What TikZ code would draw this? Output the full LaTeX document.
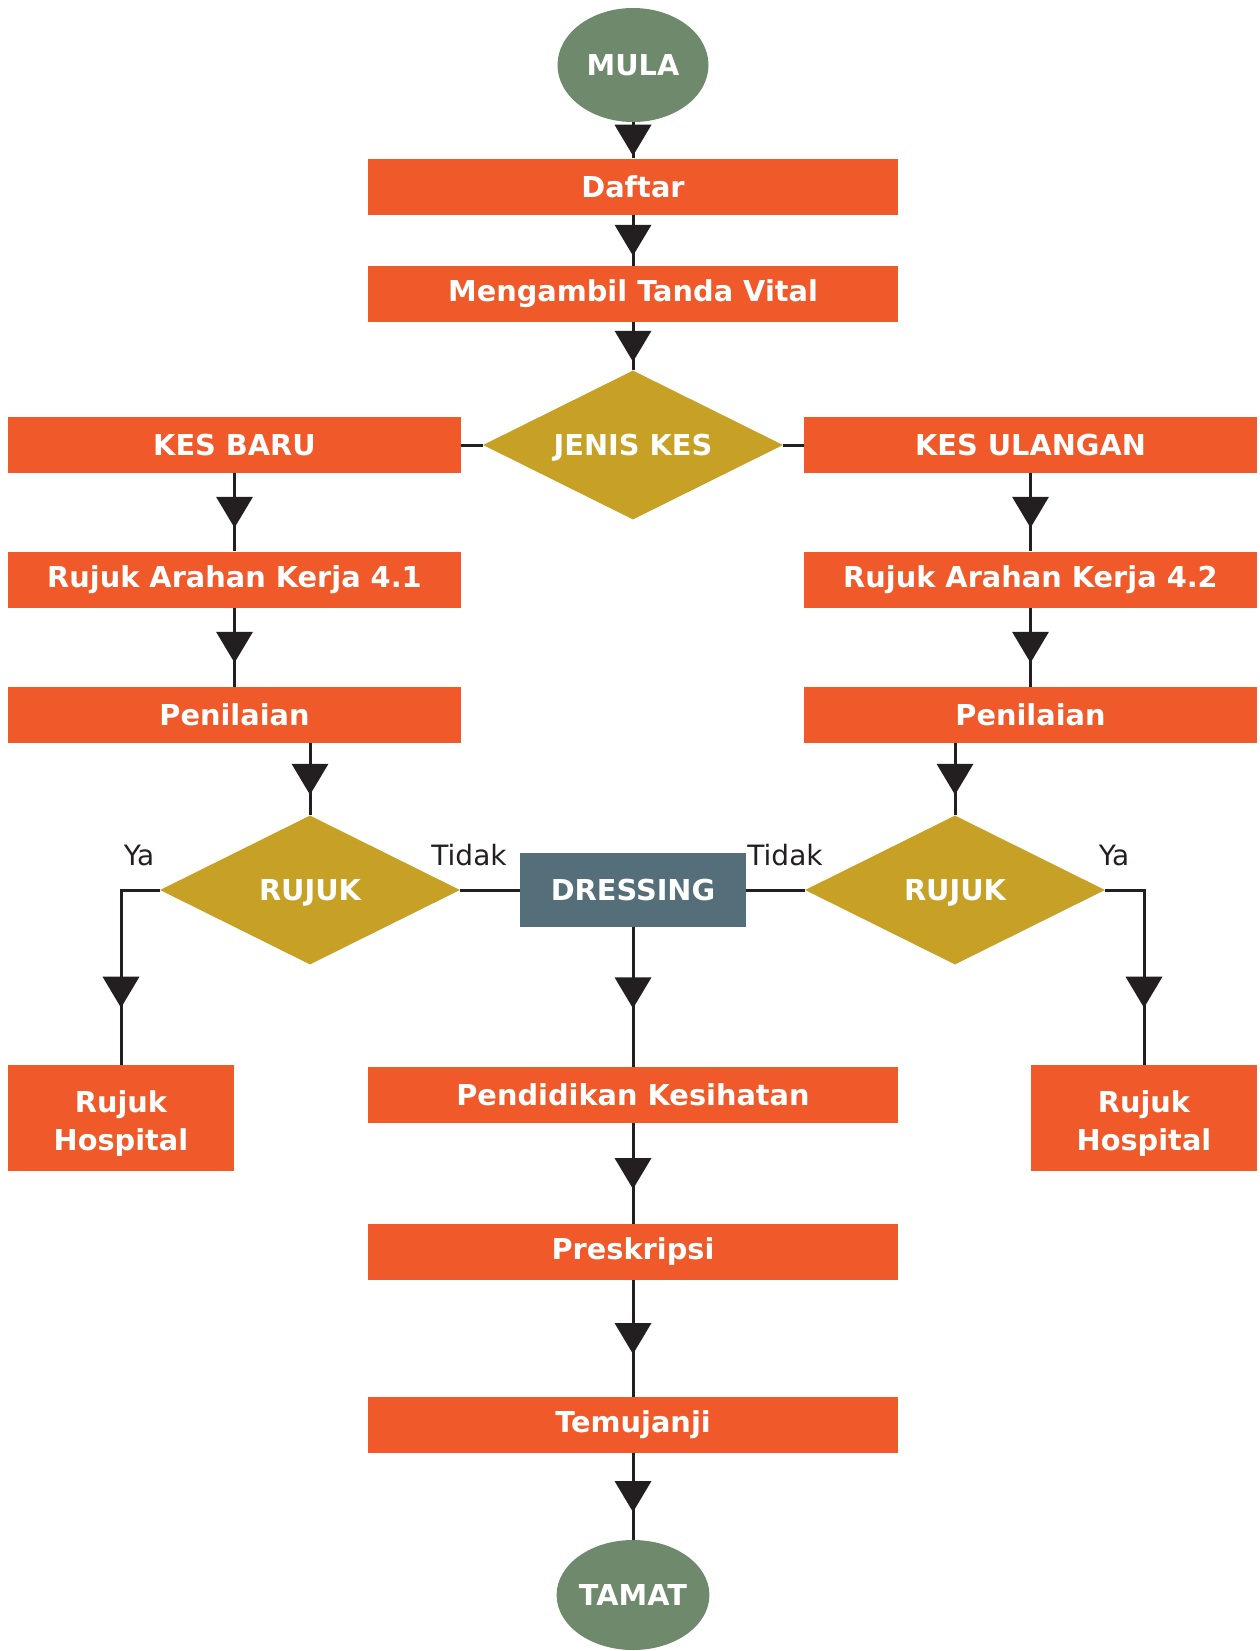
\documentclass[tikz,border=0pt]{standalone}
\usepackage{fontspec}
\setmainfont{DejaVu Sans}
\usetikzlibrary{shapes.geometric,decorations.markings}
\definecolor{boxor}{RGB}{240,90,42}
\definecolor{ellgr}{RGB}{110,137,107}
\definecolor{dgold}{RGB}{198,161,37}
\definecolor{slate}{RGB}{84,110,122}
\definecolor{arrc}{RGB}{35,31,32}
\tikzset{
  stepbox/.style={rectangle, fill=boxor, minimum width=530pt, minimum height=56pt, inner sep=0pt, text=white, font=\bfseries\fontsize{28.8}{34}\selectfont},
  sidebox/.style={stepbox, minimum width=453pt},
  hospbox/.style={stepbox, minimum width=226pt, minimum height=106pt, font=\bfseries\fontsize{28.8}{38}\selectfont},
  term/.style={ellipse, fill=ellgr, minimum width=151pt, minimum height=114pt, inner sep=0pt, text=white, font=\bfseries\fontsize{28.8}{34}\selectfont},
  decide/.style={diamond, shape aspect=2, fill=dgold, minimum width=300pt, minimum height=149pt, inner sep=0pt, text height=21pt, text depth=0pt, text=white, font=\bfseries\fontsize{28.8}{34}\selectfont},
  dressbox/.style={rectangle, fill=slate, minimum width=226pt, minimum height=74pt, inner sep=0pt, text=white, font=\bfseries\fontsize{28.8}{34}\selectfont},
  lbl/.style={text=arrc, font=\fontsize{28}{34}\selectfont, inner sep=0pt},
  conn/.style={draw=arrc, line width=3pt},
  midarrow/.style={conn, postaction=decorate, decoration={markings, mark=at position #1 with {\fill[arrc] (15.5pt,0pt) -- (-15.5pt,18.5pt) -- (-15.5pt,-18.5pt) -- cycle;}}},
  midarrow/.default=0.5
}
\newcommand{\twoline}[2]{\raisebox{-6pt}[\height][\depth]{\begin{tabular}{@{}c@{}}#1\\#2\end{tabular}}}
\begin{document}
\begin{tikzpicture}[x=1pt,y=-1pt]
\useasboundingbox (0,0) rectangle (1260,1651);
\node[term] (mula) at (633,65) {MULA};
\node[stepbox] (daftar) at (633,186.5) {Daftar};
\node[stepbox] (vital) at (633,294) {Mengambil Tanda Vital};
\node[decide] (jenis) at (633,445) {JENIS KES};
\node[sidebox] (kesbaru) at (234.5,445) {KES BARU};
\node[sidebox] (kesulang) at (1030.5,445) {KES ULANGAN};
\node[sidebox] (rujukA) at (234.5,579.5) {Rujuk Arahan Kerja 4.1};
\node[sidebox] (rujukB) at (1030.5,579.5) {Rujuk Arahan Kerja 4.2};
\node[sidebox] (nilaiA) at (234.5,715) {Penilaian};
\node[sidebox] (nilaiB) at (1030.5,715) {Penilaian};
\node[decide] (rujukL) at (310,890) {RUJUK};
\node[decide] (rujukR) at (955,890) {RUJUK};
\node[dressbox] (dressing) at (633,890) {DRESSING};
\node[hospbox] (hospL) at (121,1118) {\twoline{Rujuk}{Hospital}};
\node[hospbox] (hospR) at (1144,1118) {\twoline{Rujuk}{Hospital}};
\node[stepbox] (didik) at (633,1095) {Pendidikan Kesihatan};
\node[stepbox] (preskripsi) at (633,1252) {Preskripsi};
\node[stepbox] (temujanji) at (633,1425) {Temujanji};
\node[term, minimum height=110pt] (tamat) at (633,1595) {TAMAT};
\node[lbl] (yaL) at (139,855) {Ya};
\node[lbl] (tidakL) at (469,855) {Tidak};
\node[lbl] (tidakR) at (785,855) {Tidak};
\node[lbl] (yaR) at (1114,855) {Ya};
\draw[midarrow] (mula.south) -- (daftar.north);
\draw[midarrow] (daftar.south) -- (vital.north);
\draw[midarrow] (vital.south) -- (jenis.north);
\draw[conn] (jenis.west) -- (kesbaru.east);
\draw[conn] (jenis.east) -- (kesulang.west);
\draw[midarrow] (kesbaru.south) -- (rujukA.north);
\draw[midarrow] (rujukA.south) -- (nilaiA.north);
\draw[midarrow] (kesulang.south) -- (rujukB.north);
\draw[midarrow] (rujukB.south) -- (nilaiB.north);
\draw[midarrow] (rujukL.north |- nilaiA.south) -- (rujukL.north);
\draw[midarrow] (rujukR.north |- nilaiB.south) -- (rujukR.north);
\draw[midarrow=0.66] (rujukL.west) -| (hospL.north);
\draw[midarrow=0.66] (rujukR.east) -| (hospR.north);
\draw[conn] (rujukL.east) -- (dressing.west);
\draw[conn] (rujukR.west) -- (dressing.east);
\draw[midarrow=0.47] (dressing.south) -- (didik.north);
\draw[midarrow] (didik.south) -- (preskripsi.north);
\draw[midarrow] (preskripsi.south) -- (temujanji.north);
\draw[midarrow] (temujanji.south) -- (tamat.north);
\end{tikzpicture}
\end{document}
